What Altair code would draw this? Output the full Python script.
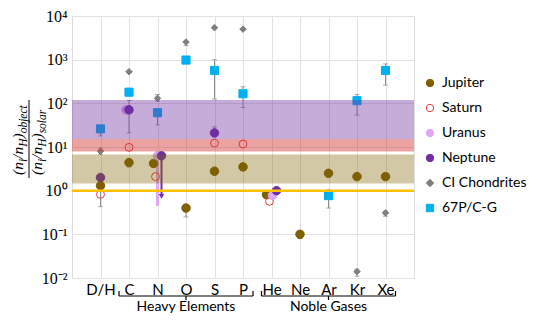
import altair as alt
import pandas as pd

W, H = 342, 262

categories = ["D/H", "C", "N", "O", "S", "P", "He", "Ne", "Ar", "Kr", "Xe"]
series_names = ["Jupiter", "Saturn", "Uranus", "Neptune", "CI Chondrites", "67P/C-G"]
series_stroke = ["#7F6000", "#E0403F", "#DDA8F5", "#7030A0", "#7F7F7F", "#00B0F0"]
series_fill = ["#7F6000", "transparent", "#DDA8F5", "#7030A0", "#7F7F7F", "#00B0F0"]
series_shape = ["circle", "circle", "circle", "circle", "diamond", "square"]
series_size = [72, 62, 72, 72, 42, 66]

jupiter_cat = ["D/H", "C", "N", "O", "S", "P", "He", "Ne", "Ar", "Kr", "Xe"]
jupiter_val = [1.3, 4.4, 4.2, 0.40, 2.8, 3.5, 0.81, 0.10, 2.5, 2.1, 2.1]
jupiter_dx = [0, 0, -4, 0, 0, 0, -5, 0, 0, 0, 0]

saturn_cat = ["D/H", "C", "N", "S", "P", "He"]
saturn_val = [0.82, 9.8, 2.1, 12.3, 11.7, 0.57]
saturn_dx = [0, 0, -2, 0, 0, -2]

uranus_cat = ["C", "N", "He"]
uranus_val = [71, 6.3, 0.78]
uranus_dx = [-3, 0, 1]

neptune_cat = ["D/H", "C", "N", "S", "He"]
neptune_val = [2.0, 71, 6.3, 21, 1.0]
neptune_dx = [0, 0, 4, 0, 5]

ci_cat = ["D/H", "C", "N", "O", "S", "P", "Kr", "Xe"]
ci_val = [8.0, 530, 130, 2530, 5400, 5000, 0.014, 0.31]
ci_dx = [0, 0, 0, 0, 0, 0, 0, 0]

comet_cat = ["D/H", "C", "N", "O", "S", "P", "Ar", "Kr", "Xe"]
comet_val = [26, 180, 61, 980, 565, 166, 0.77, 115, 565]
comet_dx = [0, 0, 0, 0, 0, 0, 0, 0, 0]

# error bars (gray)
err_cat = ["D/H", "D/H", "D/H", "C", "C", "N", "N", "N", "O", "O", "O", "S", "S", "S",
           "P", "P", "Ne", "Ar", "Ar", "Kr", "Kr", "Kr", "Xe", "Xe", "Xe"]
err_lo = [0.43, 18, 6.8, 21, 3.5, 112, 32, 3.5, 2100, 900, 0.25, 125, 21, 2.3,
          80, 2.9, 0.08, 0.40, 2.1, 54, 0.011, 1.8, 260, 0.26, 1.8]
err_hi = [1.3, 26, 9.5, 116, 4.4, 160, 61, 4.2, 2600, 1050, 0.40, 1000, 29, 2.8,
          240, 3.5, 0.10, 1.05, 2.5, 160, 0.016, 2.1, 800, 0.34, 2.1]
err_dx = [0, 0, 0, 0, 0, 0, 0, -4, 0, 0, 0, 0, 0, 0,
          0, 0, 0, 0, 0, 0, 0, 0, 0, 0, 0]

# special ranges at N
uranus_range = {"cat": "N", "lo": 0.45, "hi": 6.3, "dx": 0}
neptune_range = {"cat": "N", "lo": 0.80, "hi": 6.3, "dx": 4, "head": 0.74}

# shaded bands
band_lo = [15.2, 7.9, 1.45]
band_hi = [120, 15.2, 6.7]
band_color = ["#7030A0", "#D03030", "#7F6000"]
band_opacity = [0.40, 0.45, 0.35]

# brackets
bracket_start = ["C", "He"]
bracket_end = ["P", "Xe"]
bracket_mid = ["O", "Ar"]
group_names = ["Heavy Elements", "Noble Gases"]

y_ticks = [0.01, 0.1, 1, 10, 100, 1000, 10000]

# ---------------------------------------------------------------
rows = []
for s, cats, vals, dxs in [
    ("Jupiter", jupiter_cat, jupiter_val, jupiter_dx),
    ("Saturn", saturn_cat, saturn_val, saturn_dx),
    ("CI Chondrites", ci_cat, ci_val, ci_dx),
    ("67P/C-G", comet_cat, comet_val, comet_dx),
    ("Uranus", uranus_cat, uranus_val, uranus_dx),
    ("Neptune", neptune_cat, neptune_val, neptune_dx),
]:
    sz = series_size[series_names.index(s)]
    for c, v, d in zip(cats, vals, dxs):
        rows.append({"series": s, "cat": c, "val": v, "dx": d, "sz": sz})
pts = pd.DataFrame(rows)

err_df = pd.DataFrame({"cat": err_cat, "lo": err_lo, "hi": err_hi, "dx": err_dx})
cap_df = pd.concat([
    pd.DataFrame({"cat": err_cat, "v": err_lo, "dx": err_dx}),
    pd.DataFrame({"cat": err_cat, "v": err_hi, "dx": err_dx}),
])

x_scale = alt.Scale(type="point", domain=categories, padding=1)
y_scale = alt.Scale(type="log", domain=[0.01, 10000])

xaxis = alt.Axis(title=None, grid=True, gridColor="#E2E2E2", domain=False, ticks=False,
                 tickSize=0, labelPadding=4, labelFont="Lato", labelFontSize=15,
                 labelColor="black", labelAngle=0)
yaxis = alt.Axis(title=None, grid=True, gridColor="#E2E2E2", domain=False, ticks=False,
                 tickSize=0, labelPadding=5, values=y_ticks,
                 labelExpr="'10' + ['⁻²','⁻¹','⁰','¹','²','³','⁴'][round(log(datum.value)/LN10)+2]",
                 labelFont="Liberation Serif", labelFontSize=16, labelColor="black")

leg = alt.Legend(title=None, orient="none", legendX=351, legendY=60, labelFont="Lato",
                 labelFontSize=14, labelColor="black", symbolSize=55, rowPadding=11,
                 labelOffset=5, padding=0, symbolStrokeWidth=1, labelLimit=300)

X = lambda f: alt.X(f, scale=x_scale, axis=xaxis)
XO = alt.XOffset("dx:Q", scale=None)

errs = alt.Chart(err_df).mark_rule(color="#8C8C8C", strokeWidth=1).encode(
    x=X("cat:N"), xOffset=XO,
    y=alt.Y("lo:Q", scale=y_scale, axis=yaxis), y2="hi:Q")
caps = alt.Chart(cap_df).mark_tick(color="#8C8C8C", thickness=1, size=5).encode(
    x=X("cat:N"), xOffset=XO, y=alt.Y("v:Q", scale=y_scale))

ur_df = pd.DataFrame([uranus_range])
nep_df = pd.DataFrame([neptune_range])
ur_bar = alt.Chart(ur_df).mark_rule(color="#DDA8F5", strokeWidth=3).encode(
    x=X("cat:N"), xOffset=XO, y=alt.Y("lo:Q", scale=y_scale), y2="hi:Q")
nep_bar = alt.Chart(nep_df).mark_rule(color="#7030A0", strokeWidth=2).encode(
    x=X("cat:N"), xOffset=XO, y=alt.Y("lo:Q", scale=y_scale), y2="hi:Q")
nep_head = alt.Chart(nep_df).mark_point(shape="triangle-down", filled=True, opacity=1,
                                        color="#7030A0", size=30).encode(
    x=X("cat:N"), xOffset=XO, y=alt.Y("head:Q", scale=y_scale))

points = alt.Chart(pts).mark_point(filled=True, opacity=1, strokeWidth=1).encode(
    x=X("cat:N"), xOffset=XO,
    y=alt.Y("val:Q", scale=y_scale),
    shape=alt.Shape("series:N", scale=alt.Scale(domain=series_names, range=series_shape), legend=leg),
    fill=alt.Fill("series:N", scale=alt.Scale(domain=series_names, range=series_fill), legend=leg),
    stroke=alt.Stroke("series:N", scale=alt.Scale(domain=series_names, range=series_stroke), legend=leg),
    size=alt.Size("sz:Q", scale=None),
)

band_layers = []
for lo, hi, col, op in zip(band_lo, band_hi, band_color, band_opacity):
    bdf = pd.DataFrame({"lo": [lo], "hi": [hi]})
    band_layers.append(
        alt.Chart(bdf).mark_rect(color=col, opacity=op).encode(
            x=alt.value(0), x2=alt.value(W),
            y=alt.Y("lo:Q", scale=y_scale), y2="hi:Q"))

unity = alt.Chart(pd.DataFrame({"v": [1.0]})).mark_rule(color="#FFC000", strokeWidth=2.5).encode(
    y=alt.Y("v:Q", scale=y_scale))

bdf = pd.DataFrame({"start": bracket_start, "end": bracket_end, "mid": bracket_mid, "name": group_names})
br_h = alt.Chart(bdf).mark_rule(color="black", strokeWidth=1.2, xOffset=-10, x2Offset=10).encode(
    x=X("start:N"), x2="end:N", y=alt.value(280))
br_l = alt.Chart(bdf).mark_rule(color="black", strokeWidth=1.2, xOffset=-10).encode(
    x=X("start:N"), y=alt.value(275), y2=alt.value(280))
br_r = alt.Chart(bdf).mark_rule(color="black", strokeWidth=1.2, xOffset=10).encode(
    x=X("end:N"), y=alt.value(275), y2=alt.value(280))
br_m = alt.Chart(bdf).mark_rule(color="black", strokeWidth=1.2).encode(
    x=X("mid:N"), y=alt.value(280), y2=alt.value(284))
br_t = alt.Chart(bdf).mark_text(font="Lato", fontSize=14, baseline="alphabetic", color="black").encode(
    x=X("mid:N"), y=alt.value(295), text="name:N")

# y-axis title as a stacked fraction (rotated text pieces)
em = {"(": .333, "n": .5, "/": .278, ")": .333, "i": .278, "H": .722, "o": .5, "b": .5,
      "j": .278, "e": .444, "c": .444, "t": .278, "s": .389, "l": .278, "a": .5, "r": .389}
main_fs, sub_fs = 15.5, 11.5
title_rows = []
for pieces, xmain in [([("(n", 0), ("i", 1), ("/n", 0), ("H", 1), (")", 0), ("object", 1)], -49),
                      ([("(n", 0), ("i", 1), ("/n", 0), ("H", 1), (")", 0), ("solar", 1)], -30)]:
    ypos = 159.0
    for txt, sub in pieces:
        fs = sub_fs if sub else main_fs
        title_rows.append({"t": txt, "px": xmain + (3.5 if sub else 0), "py": ypos, "fs": fs})
        ypos -= sum(em[ch] for ch in txt) * fs
tdf = pd.DataFrame(title_rows)
ytitle = alt.Chart(tdf).mark_text(angle=270, align="left", baseline="alphabetic",
                                  font="Liberation Serif", fontStyle="italic", color="black").encode(
    x=alt.X("px:Q", scale=None), y=alt.Y("py:Q", scale=None),
    size=alt.Size("fs:Q", scale=None), text="t:N")
fbar = alt.Chart(pd.DataFrame({"a": [0]})).mark_rule(color="black", strokeWidth=1).encode(
    x=alt.value(-43), y=alt.value(84), y2=alt.value(162))

chart = alt.layer(
    errs, caps, ur_bar, nep_bar, nep_head, points, *band_layers, unity,
    br_h, br_l, br_r, br_m, br_t, ytitle, fbar
).properties(
    width=W, height=H,
    autosize=alt.AutoSizeParams(type="none"),
    padding={"left": 64, "top": 8, "right": 117, "bottom": 36},
).configure_view(stroke="#D9D9D9").configure(background="white")

chart.save("out.html", embed_options={"renderer": "svg", "actions": False})
